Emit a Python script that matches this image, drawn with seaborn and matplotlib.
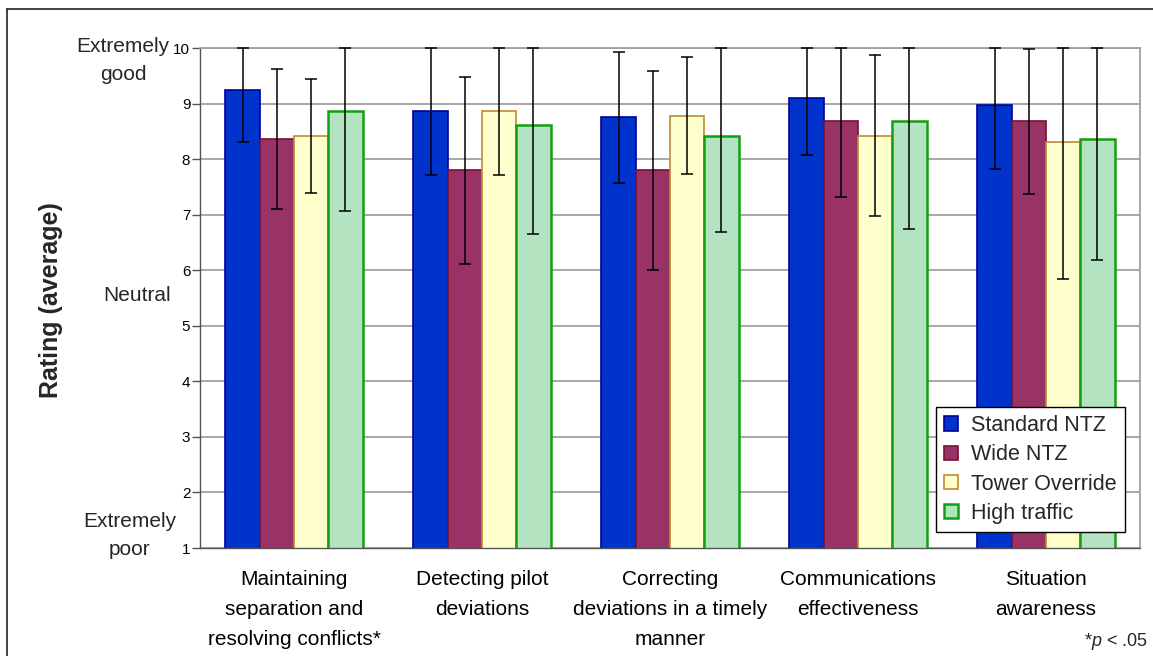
import matplotlib
matplotlib.use("Agg")
import matplotlib.pyplot as plt
from matplotlib.patches import Patch
from matplotlib.lines import Line2D
import numpy as np
import pandas as pd
import seaborn as sns

# Task categories (x axis)
tasks = [
    "Maintaining\nseparation and\nresolving conflicts*",
    "Detecting pilot\ndeviations",
    "Correcting\ndeviations in a timely\nmanner",
    "Communications\neffectiveness",
    "Situation\nawareness",
]
conditions = ["Standard NTZ", "Wide NTZ", "Tower Override", "High traffic"]

# Average ratings per condition
standard_mean = [9.25, 8.87, 8.75, 9.10, 8.98]
wide_mean = [8.36, 7.80, 7.80, 8.68, 8.68]
tower_mean = [8.42, 8.86, 8.78, 8.42, 8.30]
high_mean = [8.86, 8.62, 8.42, 8.68, 8.36]

# Standard deviations (error bars, capped at the top of the scale)
standard_sd = [0.94, 1.15, 1.18, 1.03, 1.16]
wide_sd = [1.26, 1.68, 1.79, 1.37, 1.30]
tower_sd = [1.03, 1.15, 1.05, 1.45, 2.46]
high_sd = [1.79, 1.96, 1.74, 1.93, 2.18]

y_ticks = [1, 2, 3, 4, 5, 6, 7, 8, 9, 10]
scale_max = 10

fill_colors = ["#0033CC", "#993366", "#FFFFCC", "#B3E3C0"]
edge_colors = ["#000099", "#7A1030", "#C08A30", "#12A012"]
edge_widths = [1.2, 1.2, 1.2, 1.8]

means = [standard_mean, wide_mean, tower_mean, high_mean]
sds = [standard_sd, wide_sd, tower_sd, high_sd]

rows = []
for cond, m_list, s_list in zip(conditions, means, sds):
    for task, m, s in zip(tasks, m_list, s_list):
        rows.append({"task": task, "condition": cond, "rating": m, "sd": s})
df = pd.DataFrame(rows)

sns.set_theme(style="white")
plt.rcParams["font.family"] = ["Liberation Sans", "DejaVu Sans"]
plt.rcParams["mathtext.fontset"] = "custom"
plt.rcParams["mathtext.rm"] = "Liberation Sans"
plt.rcParams["mathtext.it"] = "Liberation Sans:italic"

W, H = 1153, 656
fig = plt.figure(figsize=(W / 100, H / 100), dpi=100)
ax = fig.add_axes([200 / W, (H - 548) / H, 940 / W, 500 / H])

sns.barplot(
    data=df, x="task", y="rating", hue="condition",
    order=tasks, hue_order=conditions, palette=fill_colors,
    width=0.73, errorbar=None, saturation=1, ax=ax, legend=False,
)

# Outline each series and add the rating spread as error bars
for container, ec, lw, cond in zip(ax.containers, edge_colors, edge_widths, conditions):
    sub = df[df["condition"] == cond].set_index("task").loc[tasks]
    xs, ys, lo, hi = [], [], [], []
    for bar, (_, r) in zip(container.patches, sub.iterrows()):
        bar.set_edgecolor(ec)
        bar.set_linewidth(lw)
        xs.append(bar.get_x() + bar.get_width() / 2)
        ys.append(r["rating"])
        lo.append(r["sd"])
        hi.append(min(r["rating"] + r["sd"], scale_max) - r["rating"])
    ax.errorbar(xs, ys, yerr=[lo, hi], fmt="none", ecolor="black",
                elinewidth=1.1, capsize=4, capthick=1.1, zorder=5, clip_on=False)

ax.set_ylim(1, 10)
ax.set_xlim(-0.5, len(tasks) - 0.5)
ax.set_yticks(y_ticks)
ax.set_yticklabels([str(t) for t in y_ticks], fontsize=11, color="black")
ax.yaxis.grid(True, color="#A0A0A0", linewidth=1.3)
ax.set_axisbelow(True)

# Category labels centred on groups, tick marks between groups
ax.set_xticks(np.arange(len(tasks)))
ax.set_xticklabels(tasks, fontsize=15, linespacing=1.72, color="black")
ax.set_xticks(np.arange(len(tasks) + 1) - 0.5, minor=True)
ax.tick_params(axis="x", which="major", length=0, pad=16)
ax.tick_params(axis="x", which="minor", length=6, width=1, color="#555555", direction="out")
ax.tick_params(axis="y", length=6, width=1, color="#555555", direction="out", pad=1, left=True)

ax.set_xlabel("")
ax.set_ylabel("")
for side in ["top", "right"]:
    ax.spines[side].set_color("#A0A0A0")
    ax.spines[side].set_linewidth(1.3)
for side in ["left", "bottom"]:
    ax.spines[side].set_color("#555555")
    ax.spines[side].set_linewidth(1.0)

# Scale anchors beside the y axis
anchor_tf = matplotlib.transforms.blended_transform_factory(ax.transAxes, ax.transData)
ax.text(-0.082, 9.78, "Extremely\ngood", transform=anchor_tf, ha="center", va="center",
        fontsize=15, linespacing=1.6)
ax.text(-0.067, 5.55, "Neutral", transform=anchor_tf, ha="center", va="center", fontsize=15)
ax.text(-0.075, 1.23, "Extremely\npoor", transform=anchor_tf, ha="center", va="center",
        fontsize=15, linespacing=1.6)

fig.text(51 / W, 1 - 300 / H, "Rating (average)", rotation=90, ha="center", va="center",
         fontsize=18, fontweight="bold")

handles = [Patch(facecolor=fc, edgecolor=ec, linewidth=lw, label=c)
           for fc, ec, lw, c in zip(fill_colors, edge_colors, edge_widths, conditions)]
leg = ax.legend(handles=handles, loc="upper left", bbox_to_anchor=(936 / W, 1 - 407 / H),
                bbox_transform=fig.transFigure, fontsize=15.5, frameon=True, fancybox=False,
                edgecolor="black", framealpha=1, handlelength=0.65, handleheight=0.65,
                handletextpad=0.6, labelspacing=0.38, borderpad=0.38, borderaxespad=0)
leg.get_frame().set_linewidth(1.0)

fig.text(1148 / W, 1 - 642 / H, "*$p$ < .05", ha="right", va="center", fontsize=13)

# Frame lines around the figure
fig.add_artist(Line2D([7 / W, 7 / W], [0, 1 - 9 / H], color="#222222", linewidth=1.2))
fig.add_artist(Line2D([7 / W, 1], [1 - 9 / H, 1 - 9 / H], color="#222222", linewidth=1.2))

fig.savefig("out.png", dpi=100, facecolor="white")
